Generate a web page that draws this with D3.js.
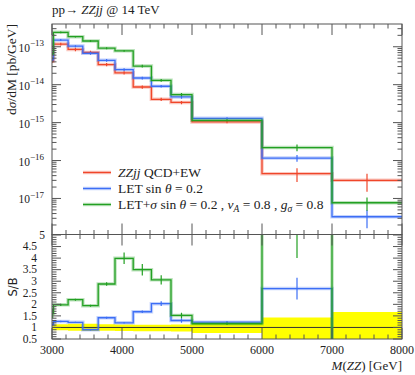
<!DOCTYPE html>
<html>
<head>
<meta charset="utf-8">
<script src="https://cdn.jsdelivr.net/npm/d3@7"></script>
<style>
  body { margin: 0; background: #fff; }
  text { font-family: "Liberation Serif", "DejaVu Serif", serif; fill: #222; }
</style>
</head>
<body>
<svg width="415" height="375"></svg>
<script>
// bin edges in M(ZZ) [GeV]
var binEdges = [3000, 3020, 3230, 3440, 3660, 3900, 4160, 4420, 4700, 5000, 6000, 7000, 8000];

// dsigma/dM [pb/GeV]
var redVals   = [4.2e-14, 1.18e-13, 8.5e-14, 7.1e-14, 3.4e-14, 2.05e-14, 8.7e-15, 4.1e-15, 3.4e-15, 1.04e-15, 4.5e-17, 3.0e-17];
var blueVals  = [4.7e-14, 1.5e-13, 1.04e-13, 6.7e-14, 4.4e-14, 2.5e-14, 1.5e-14, 9.1e-15, 4.75e-15, 1.3e-15, 1.16e-16, 3.3e-18];
var greenVals = [6.7e-14, 2.4e-13, 1.84e-13, 1.42e-13, 9.2e-14, 7.8e-14, 3.1e-14, 1.3e-14, 5.5e-15, 1.15e-15, 2.2e-16, 7.7e-18];
// relative errors
var redErr   = [0.1, 0.08, 0.1, 0.1, 0.1, 0.1, 0.1, 0.1, 0.1, 0.08, 0.4, 0.5];
var blueErr  = [0.1, 0.06, 0.06, 0.08, 0.08, 0.08, 0.08, 0.08, 0.1, 0.06, 0.2, 0.5];
var greenErr = [0.1, 0.05, 0.05, 0.06, 0.06, 0.06, 0.08, 0.08, 0.1, 0.06, 0.2, 0.38];

// S/B ratio panel
var blueRatio     = [1.12, 1.26, 1.22, 0.9, 1.42, 1.2, 1.68, 2.03, 1.3, 1.23, 2.68, 0.11];
var blueRatioErr  = [0.05, 0.03, 0.03, 0.03, 0.04, 0.03, 0.05, 0.1, 0.1, 0.05, 0.47, 0.05];
var greenRatio    = [1.6, 1.98, 2.2, 1.94, 2.88, 3.99, 3.5, 3.06, 1.52, 1.16, 6.0, 0.27];
var greenRatioErr = [0.2, 0.05, 0.04, 0.04, 0.08, 0.25, 0.25, 0.2, 0.12, 0.05, 2.0, 0.1];
var bandLo = [0.9, 0.88, 0.86, 0.85, 0.86, 0.85, 0.84, 0.83, 0.82, 0.76, 0.3, 0.3];
var bandHi = [1.1, 1.14, 1.16, 1.16, 1.14, 1.13, 1.12, 1.12, 1.13, 1.19, 1.43, 1.67];

var xTicks = [3000, 4000, 5000, 6000, 7000, 8000];
var ratioTicks = [0.5, 1, 1.5, 2, 2.5, 3, 3.5, 4, 4.5, 5];
var decades = [-13, -14, -15, -16, -17];

var red = "#f0462a", blue = "#3c6ef5", green = "#22a022", axisCol = "#555";

var svg = d3.select("svg");
var pLeft = 52, pRight = 402, pTop = 24, pMid = 234.5, pBottom = 339;

var x = d3.scaleLinear().domain([3000, 8000]).range([pLeft, pRight]);
var y = d3.scaleLog().domain([Math.pow(10, -17.95), Math.pow(10, -12.4)]).range([pMid, pTop]);
var yr = d3.scaleLinear().domain([0.5, 5]).range([pBottom, pMid + 0.5]);

var defs = svg.append("defs");
defs.append("clipPath").attr("id", "clipMain")
    .append("rect").attr("x", pLeft).attr("y", pTop).attr("width", pRight - pLeft).attr("height", pMid - pTop);
defs.append("clipPath").attr("id", "clipRatio")
    .append("rect").attr("x", pLeft).attr("y", pMid).attr("width", pRight - pLeft).attr("height", pBottom - pMid);

function stepPoints(vals) {
    var pts = [];
    vals.forEach(function (v, i) {
        pts.push([binEdges[i], v]);
        pts.push([binEdges[i + 1], v]);
    });
    return pts;
}

function drawHist(g, vals, errs, ys, color, relErr) {
    var line = d3.line().x(function (d) { return x(d[0]); }).y(function (d) { return ys(d[1]); });
    var pts = stepPoints(vals);
    g.append("path").attr("d", line(pts)).attr("fill", "none")
        .attr("stroke", color).attr("stroke-opacity", 0.3).attr("stroke-width", 3.5);
    g.append("path").attr("d", line(pts)).attr("fill", "none")
        .attr("stroke", color).attr("stroke-width", 1.3);
    vals.forEach(function (v, i) {
        var e = relErr ? v * errs[i] : errs[i];
        var cx = x((binEdges[i] + binEdges[i + 1]) / 2);
        var lo = Math.max(v - e, ys.domain()[0] * 0.5);
        g.append("line").attr("x1", cx).attr("x2", cx)
            .attr("y1", ys(v + e)).attr("y2", ys(lo))
            .attr("stroke", color).attr("stroke-width", 1.2);
    });
}

// ---- main panel
var gMain = svg.append("g").attr("clip-path", "url(#clipMain)");
drawHist(gMain, redVals, redErr, y, red, true);
drawHist(gMain, blueVals, blueErr, y, blue, true);
drawHist(gMain, greenVals, greenErr, y, green, true);

// ---- ratio panel
var gRatio = svg.append("g").attr("clip-path", "url(#clipRatio)");
var bandPts = [];
bandLo.forEach(function (v, i) {
    bandPts.push([binEdges[i], v, bandHi[i]]);
    bandPts.push([binEdges[i + 1], v, bandHi[i]]);
});
gRatio.append("path")
    .attr("d", d3.area().x(function (d) { return x(d[0]); })
        .y0(function (d) { return yr(d[1]); }).y1(function (d) { return yr(d[2]); })(bandPts))
    .attr("fill", "#ffff00");
gRatio.append("line").attr("x1", x(3000)).attr("x2", x(8000))
    .attr("y1", yr(1)).attr("y2", yr(1)).attr("stroke", "#333").attr("stroke-width", 1);
drawHist(gRatio, blueRatio, blueRatioErr, yr, blue, false);
drawHist(gRatio, greenRatio, greenRatioErr, yr, green, false);

// ---- frames and ticks
var axes = svg.append("g").attr("stroke", axisCol).attr("stroke-width", 1).attr("fill", "none");
axes.append("rect").attr("x", pLeft).attr("y", pTop).attr("width", pRight - pLeft).attr("height", pMid - pTop);
axes.append("rect").attr("x", pLeft).attr("y", pMid).attr("width", pRight - pLeft).attr("height", pBottom - pMid);

function tick(x1, y1, x2, y2) {
    axes.append("line").attr("x1", x1).attr("y1", y1).attr("x2", x2).attr("y2", y2);
}

// x ticks on every horizontal frame edge
d3.range(3000, 8001, 200).forEach(function (m) {
    var px = x(m), major = m % 1000 === 0, len = major ? 11 : 4.5;
    tick(px, pTop, px, pTop + len);
    tick(px, pMid, px, pMid - len);
    tick(px, pMid, px, pMid + len);
    tick(px, pBottom, px, pBottom - len);
});

// log y ticks
for (var d = -18; d <= -13; d++) {
    for (var k = 1; k <= 9; k++) {
        var v = k * Math.pow(10, d);
        if (v < y.domain()[0] || v > y.domain()[1]) continue;
        var py = y(v), len = k === 1 ? 9 : 4.5;
        tick(pLeft, py, pLeft + len, py);
        tick(pRight, py, pRight - len, py);
    }
}

// ratio y ticks
d3.range(5, 51).forEach(function (i) {
    var v = i / 10, py = yr(v), len = i % 5 === 0 ? 9 : 4.5;
    tick(pLeft, py, pLeft + len, py);
    tick(pRight, py, pRight - len, py);
});

// ---- labels
decades.forEach(function (dd) {
    var t = svg.append("text").attr("x", 44).attr("y", y(Math.pow(10, dd)) + 5)
        .attr("text-anchor", "end").attr("font-size", 11.5);
    t.append("tspan").text("10");
    t.append("tspan").attr("dy", -5.5).attr("font-size", 9).text("\u2212" + (-dd));
});

ratioTicks.forEach(function (v) {
    svg.append("text").attr("x", v === 5 ? 45 : 37).attr("y", yr(v) + 3.8)
        .attr("text-anchor", "end").attr("font-size", 11.5).text(v);
});

xTicks.forEach(function (m) {
    svg.append("text").attr("x", x(m)).attr("y", 354)
        .attr("text-anchor", "middle").attr("font-size", 12).text(m);
});

var xl = svg.append("text").attr("x", pRight).attr("y", 370).attr("text-anchor", "end").attr("font-size", 13);
xl.append("tspan").attr("font-style", "italic").text("M");
xl.append("tspan").text("(");
xl.append("tspan").attr("font-style", "italic").text("ZZ");
xl.append("tspan").text(") [GeV]");

var yl = svg.append("text").attr("transform", "translate(16," + pTop + ") rotate(-90)")
    .attr("text-anchor", "end").attr("font-size", 13.5);
yl.append("tspan").text("d");
yl.append("tspan").attr("font-style", "italic").text("\u03c3");
yl.append("tspan").text("/dM [pb/GeV]");

svg.append("text").attr("transform", "translate(17," + yr(2.75) + ") rotate(-90)")
    .attr("text-anchor", "middle").attr("font-size", 11.5)
    .style("font-family", "'DejaVu Sans', sans-serif").text("S/B");

var title = svg.append("text").attr("x", pLeft).attr("y", 14).attr("font-size", 13);
title.append("tspan").text("pp\u2192 ");
title.append("tspan").attr("font-style", "italic").text("ZZjj");
title.append("tspan").text(" @ 14 TeV");

// ---- legend
var legendRows = [
    { color: red, parts: [["ZZjj", true], [" QCD+EW", false]] },
    { color: blue, parts: [["LET sin ", false], ["\u03b8", true], [" = 0.2", false]] },
    { color: green, parts: [["LET+", false], ["\u03c3", true], [" sin ", false], ["\u03b8", true], [" = 0.2 , ", false],
        ["v", true], ["A", true, "sub"], [" = 0.8 , ", false], ["g", true], ["\u03c3", true, "sub"], [" = 0.8", false]] }
];
var legendY = [172.5, 188.5, 204.5];
legendRows.forEach(function (row, i) {
    var ly = legendY[i];
    svg.append("line").attr("x1", 83).attr("x2", 111).attr("y1", ly).attr("y2", ly)
        .attr("stroke", row.color).attr("stroke-opacity", 0.3).attr("stroke-width", 3.5);
    svg.append("line").attr("x1", 83).attr("x2", 111).attr("y1", ly).attr("y2", ly)
        .attr("stroke", row.color).attr("stroke-width", 1.3);
    var t = svg.append("text").attr("x", 118).attr("y", ly + 4.5).attr("font-size", 13.5);
    var shifted = false;
    row.parts.forEach(function (p) {
        var s = t.append("tspan").text(p[0]);
        if (p[1]) s.attr("font-style", "italic");
        if (p[2] === "sub") { s.attr("dy", 3).attr("font-size", 9.5); shifted = true; }
        else if (shifted) { s.attr("dy", -3); shifted = false; }
    });
});
</script>
</body>
</html>
